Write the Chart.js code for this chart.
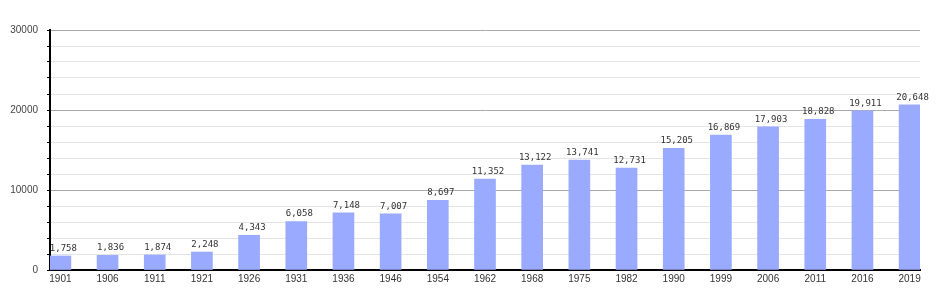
<!DOCTYPE html>
<html lang="en">
<head>
    <meta charset="UTF-8">
    <title>Population</title>
    <style>
        body { margin: 0; background: #fff; }
    </style>
</head>
<body>
<canvas id="myChart" width="950" height="300"></canvas>
<script src="https://cdn.jsdelivr.net/npm/chart.js"></script>
<script>
    // census years and population
    var years = ['1901', '1906', '1911', '1921', '1926', '1931', '1936', '1946', '1954', '1962',
                 '1968', '1975', '1982', '1990', '1999', '2006', '2011', '2016', '2019'];
    var population = [1758, 1836, 1874, 2248, 4343, 6058, 7148, 7007, 8697, 11352,
                      13122, 13741, 12731, 15205, 16869, 17903, 18828, 19911, 20648];
    var yTicks = [0, 10000, 20000, 30000];

    // writes the value above each bar (after the axes so nothing covers it)
    var valueLabels = {
        id: 'valueLabels',
        afterDraw: function(chart) {
            var ctx = chart.ctx;
            var meta = chart.getDatasetMeta(0);
            ctx.save();
            ctx.font = '9px "DejaVu Sans Mono"';
            ctx.fillStyle = '#333';
            ctx.textAlign = 'center';
            ctx.textBaseline = 'bottom';
            meta.data.forEach(function(bar, i) {
                ctx.fillText(population[i].toLocaleString('en-US'), bar.x + 3, bar.y - 3);
            });
            ctx.restore();
        }
    };

    var ctx = document.getElementById('myChart').getContext('2d');
    var chart = new Chart(ctx, {
        type: 'bar',
        data: {
            datasets: [{
                data: population.map(function(v, i) { return { x: i, y: v }; }),
                backgroundColor: '#99aaff',
                barThickness: 21
            }]
        },
        options: {
            responsive: false,
            animation: false,
            layout: { padding: { top: 30, right: 30, left: 0, bottom: 0 } },
            plugins: { legend: { display: false }, tooltip: { enabled: false } },
            scales: {
                x: {
                    type: 'linear',
                    offset: false,
                    min: -0.22,
                    max: 18.22,
                    afterBuildTicks: function(scale) {
                        scale.ticks = years.map(function(_, i) { return { value: i }; });
                    },
                    afterFit: function(scale) { scale.height = 30; },
                    ticks: {
                        autoSkip: false,
                        maxRotation: 0,
                        padding: 3,
                        color: '#333',
                        font: { family: 'Liberation Sans', size: 10 },
                        callback: function(value) { return years[value]; }
                    },
                    grid: { display: false, drawTicks: false, offset: false },
                    border: { color: '#000', width: 2 }
                },
                y: {
                    min: 0,
                    max: 30000,
                    afterFit: function(scale) { scale.width = 50; },
                    ticks: {
                        stepSize: 2000,
                        padding: 9,
                        color: '#444',
                        font: { family: 'Liberation Sans', size: 10 },
                        callback: function(value) {
                            return yTicks.indexOf(value) >= 0 ? String(value) : '';
                        }
                    },
                    grid: {
                        tickLength: 3,
                        tickColor: '#000',
                        color: function(c) {
                            if (c.tick && c.tick.value % 10000 === 0) return '#aaaaaa';
                            return '#e4e4e4';
                        }
                    },
                    border: { color: '#000', width: 2 }
                }
            }
        },
        plugins: [valueLabels]
    });
</script>
</body>
</html>
